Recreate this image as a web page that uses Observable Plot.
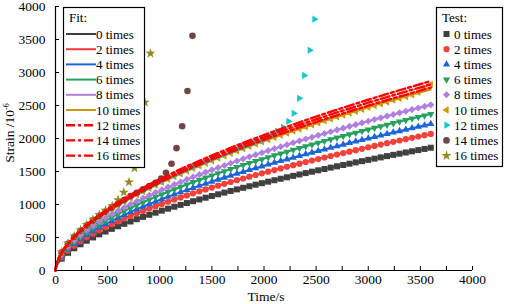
<!DOCTYPE html>
<html><head><meta charset="utf-8">
<script src="https://cdn.jsdelivr.net/npm/d3@7"></script>
<script src="https://cdn.jsdelivr.net/npm/@observablehq/plot@0.6"></script>
<style>html,body{margin:0;padding:0;background:#fff;} #chart{width:505px;height:304px;overflow:hidden}</style>
</head><body><div id="chart"></div>
<script>
// ---------- data ----------
const categories = ["0 times","2 times","4 times","6 times","8 times","10 times","12 times","14 times","16 times"];
const xTicks = [0,500,1000,1500,2000,2500,3000,3500,4000];
const xMinorTicks = [0,250,500,750,1000,1250,1500,1750,2000,2250,2500,2750,3000,3250,3500,3750,4000];
const yTicks = [0,500,1000,1500,2000,2500,3000,3500,4000];

const testT = [60,120,180,240,300,360,420,480,540,600,660,720,780,840,900,960,1020,1080,1140,1200,1260,1320,1380,1440,1500,1560,1620,1680,1740,1800,1860,1920,1980,2040,2100,2160,2220,2280,2340,2400,2460,2520,2580,2640,2700,2760,2820,2880,2940,3000,3060,3120,3180,3240,3300,3360,3420,3480,3540,3600];
const test0 = [180,268,337,397,451,501,547,590,631,670,707,743,778,812,844,876,907,937,966,994,1022,1050,1077,1103,1129,1155,1180,1205,1229,1253,1277,1300,1323,1346,1368,1390,1412,1434,1455,1476,1497,1518,1538,1559,1579,1599,1618,1638,1657,1676,1695,1714,1733,1752,1770,1788,1806,1824,1842,1860];
const test2 = [201,298,375,442,502,557,608,656,702,745,787,827,866,903,939,975,1009,1042,1075,1107,1138,1169,1199,1228,1257,1285,1313,1341,1368,1394,1421,1447,1472,1498,1522,1547,1572,1596,1619,1643,1666,1689,1712,1735,1757,1779,1801,1823,1844,1866,1887,1908,1929,1949,1970,1990,2010,2030,2050,2070];
const test4 = [215,319,402,474,539,598,652,704,753,799,844,887,928,969,1007,1045,1082,1118,1153,1187,1220,1253,1285,1317,1348,1378,1408,1438,1467,1495,1524,1552,1579,1606,1633,1659,1685,1711,1737,1762,1787,1812,1836,1860,1884,1908,1932,1955,1978,2001,2024,2046,2068,2091,2113,2135,2156,2178,2199,2220];
const test6 = [230,341,430,506,575,638,697,752,804,853,901,947,991,1034,1076,1116,1155,1193,1231,1267,1303,1338,1372,1406,1439,1472,1504,1535,1566,1596,1627,1656,1686,1715,1743,1771,1799,1827,1854,1881,1908,1934,1960,1986,2012,2037,2062,2087,2112,2136,2160,2184,2208,2232,2255,2279,2302,2325,2347,2370];
const test8 = [243,361,455,536,609,676,738,796,851,904,955,1003,1050,1095,1139,1182,1223,1264,1303,1342,1380,1417,1453,1489,1524,1558,1592,1626,1659,1691,1723,1754,1785,1816,1846,1876,1906,1935,1964,1992,2020,2048,2076,2103,2130,2157,2184,2210,2236,2262,2288,2313,2339,2364,2389,2413,2438,2462,2486,2510];
const test10 = [266,394,497,585,665,738,805,869,929,987,1042,1095,1146,1195,1243,1290,1335,1380,1423,1465,1506,1547,1586,1625,1663,1701,1738,1775,1811,1846,1880,1915,1949,1982,2015,2048,2080,2112,2143,2175,2205,2236,2266,2296,2326,2355,2384,2413,2441,2470,2498,2525,2553,2580,2607,2634,2661,2700,2760,2820];
const test12T = [60,120,180,240,300,360,420,480,540,600,660,720,780,840,900,960,1020,1080,1140,1200,1260,1320,1380,1440,1500,1560,1620,1680,1740,1800,1860,1920,1980,2040,2080,2127,2184,2235,2286,2338,2386,2439,2484];
const test12 = [269,400,504,594,674,748,817,882,943,1001,1057,1111,1163,1213,1262,1309,1355,1400,1443,1486,1528,1569,1610,1649,1688,1726,1764,1801,1837,1873,1908,1943,1977,2011,2050,2110,2170,2261,2382,2608,2955,3339,3807];
const test14T = [60,120,180,240,300,360,420,480,540,600,660,720,780,840,900,960,1014,1060,1113,1161,1215,1266,1314];
const test14 = [273,406,511,602,684,759,829,894,956,1015,1072,1127,1179,1230,1280,1328,1392,1482,1618,1854,2186,2720,3555];
const test16T = [60,120,180,240,300,360,420,480,544,601,655,705,758,809,857,911];
const test16 = [278,413,520,613,696,773,843,910,978,1070,1185,1338,1552,2020,2548,3288];

const fitT = [0,10,30,60,120,240,480,720,1080,1440,1800,2400,3000,3600];
const fit0 = [0,65,121,180,268,397,590,743,937,1103,1253,1476,1676,1860];
const fit2 = [0,72,135,201,298,442,656,827,1042,1228,1394,1643,1866,2070];
const fit4 = [0,77,145,215,319,474,704,887,1118,1317,1495,1762,2001,2220];
const fit6 = [0,83,155,230,341,506,752,947,1193,1406,1596,1881,2136,2370];
const fit8 = [0,88,164,243,361,536,796,1003,1264,1489,1691,1992,2262,2510];
const fit10 = [0,96,179,266,394,585,869,1095,1380,1625,1846,2175,2470,2740];
const fit12 = [0,97,181,268,399,592,878,1107,1395,1643,1866,2199,2497,2770];
const fit14 = [0,98,184,273,406,602,894,1127,1420,1673,1900,2238,2542,2820];
const fit16 = [0,100,187,278,413,613,910,1147,1445,1703,1933,2278,2587,2870];

// ---------- styling ----------
const testColors = ["#404040","#f2403a","#1a66d9","#26a060","#b07fe0","#cc9808","#18c6c8","#6f4646","#8e8c1e"];
const fitColors = ["#404040","#f53a3a","#1a66d9","#26a060","#b07fe0","#cc9808","#ff0000","#ff0000","#ff0000"];
const symbols = ["square","circle","triangle","triangle","diamond2","triangle","triangle","circle","star"];
const rotations = [0,0,0,180,0,-90,90,0,0];
const radii = [3.4,3.1,2.7,2.7,3.2,2.7,2.7,3.3,3.2];
const dashes = [null,null,null,null,null,null,"9,3,3,3","9,3,3,3","9,3,3,3"];

const testSets = [[testT,test0],[testT,test2],[testT,test4],[testT,test6],[testT,test8],[testT,test10],[test12T,test12],[test14T,test14],[test16T,test16]];
const fitSets = [fit0,fit2,fit4,fit6,fit8,fit10,fit12,fit14,fit16];

const FONT = "'Liberation Serif', 'Times New Roman', serif";

const marks = [];
// solid fit lines (drawn beneath markers)
fitSets.forEach((f, i) => {
  if (dashes[i]) return;
  marks.push(Plot.line(fitT.map((t, j) => ({t, v: f[j]})), {x: "t", y: "v", stroke: fitColors[i], strokeWidth: 2, curve: "monotone-x"}));
});
// test markers
testSets.forEach(([T, V], i) => {
  marks.push(Plot.dot(T.map((t, j) => ({t, v: V[j]})), {x: "t", y: "v", symbol: symbols[i], rotate: rotations[i], fill: testColors[i], r: radii[i]}));
});
// dash-dot fit lines (on top)
fitSets.forEach((f, i) => {
  if (!dashes[i]) return;
  marks.push(Plot.line(fitT.map((t, j) => ({t, v: f[j]})), {x: "t", y: "v", stroke: fitColors[i], strokeWidth: 2.4, strokeDasharray: dashes[i], curve: "monotone-x"}));
});
// axes
marks.push(
  Plot.axisX({ticks: xTicks, tickSize: 0, tickPadding: 4, label: null, tickFormat: d => String(d)}),
  Plot.axisX({ticks: xMinorTicks, tickSize: 4, dy: -4, label: null, tickFormat: () => ""}),
  Plot.axisY({ticks: yTicks, tickSize: 0, tickPadding: 10, label: null, tickFormat: d => String(d)}),
  Plot.axisY({ticks: yTicks, tickSize: 4, dx: 4, label: null, tickFormat: () => ""}),
  Plot.ruleX([0], {stroke: "#000", strokeWidth: 1.2}),
  Plot.ruleY([0], {stroke: "#000", strokeWidth: 1.2})
);

const svg = Plot.plot({
  width: 505, height: 304,
  marginLeft: 55, marginRight: 33, marginTop: 6, marginBottom: 34,
  x: {domain: [0, 4000]},
  y: {domain: [0, 4000]},
  style: {fontFamily: FONT, fontSize: "13.5px", color: "#000", background: "#fff", overflow: "visible"},
  marks
});
document.getElementById("chart").appendChild(svg);

// ---------- titles & legends ----------
const s = d3.select(svg);
s.append("text").attr("x", 266).attr("y", 301).attr("text-anchor", "middle")
  .style("font-family", FONT).style("font-size", "13.5px").attr("fill", "#000").text("Time/s");
const yl = s.append("text").attr("transform", "translate(14,133) rotate(-90)").attr("text-anchor", "middle")
  .style("font-family", FONT).style("font-size", "13.5px").attr("fill", "#000");
yl.append("tspan").text("Strain /10");
yl.append("tspan").attr("dy", -5).style("font-size", "8px").text("-6");

const rowY = i => 34 + 15.2 * i;
// Fit legend
const gf = s.append("g").attr("text-anchor", "start").style("font-family", FONT).style("font-size", "13px");
gf.append("rect").attr("x", 63.5).attr("y", 7.5).attr("width", 81).attr("height", 160)
  .attr("fill", "#fff").attr("stroke", "#000").attr("stroke-width", 1.2);
gf.append("text").attr("x", 69).attr("y", 21.5).attr("fill", "#000").text("Fit:");
categories.forEach((c, i) => {
  gf.append("line").attr("x1", 66).attr("x2", 96).attr("y1", rowY(i)).attr("y2", rowY(i))
    .attr("stroke", fitColors[i]).attr("stroke-width", dashes[i] ? 2.4 : 2)
    .attr("stroke-dasharray", dashes[i] || null);
  gf.append("text").attr("x", 96).attr("y", rowY(i) + 4.5).attr("fill", "#000").text(c);
});
// Test legend
const gt = s.append("g").attr("text-anchor", "start").style("font-family", FONT).style("font-size", "13px");
gt.append("rect").attr("x", 436.5).attr("y", 7.5).attr("width", 66).attr("height", 159)
  .attr("fill", "#fff").attr("stroke", "#000").attr("stroke-width", 1.2);
gt.append("text").attr("x", 442).attr("y", 21.5).attr("fill", "#000").text("Test:");
const symMap = {square: d3.symbolSquare, circle: d3.symbolCircle, triangle: d3.symbolTriangle, diamond2: d3.symbolDiamond2, star: d3.symbolStar};
categories.forEach((c, i) => {
  gt.append("path").attr("d", d3.symbol(symMap[symbols[i]], Math.PI * radii[i] * radii[i])())
    .attr("transform", `translate(446.5,${rowY(i)}) rotate(${rotations[i]})`).attr("fill", testColors[i]);
  gt.append("text").attr("x", 454).attr("y", rowY(i) + 4.5).attr("fill", "#000").text(c);
});
</script></body></html>
